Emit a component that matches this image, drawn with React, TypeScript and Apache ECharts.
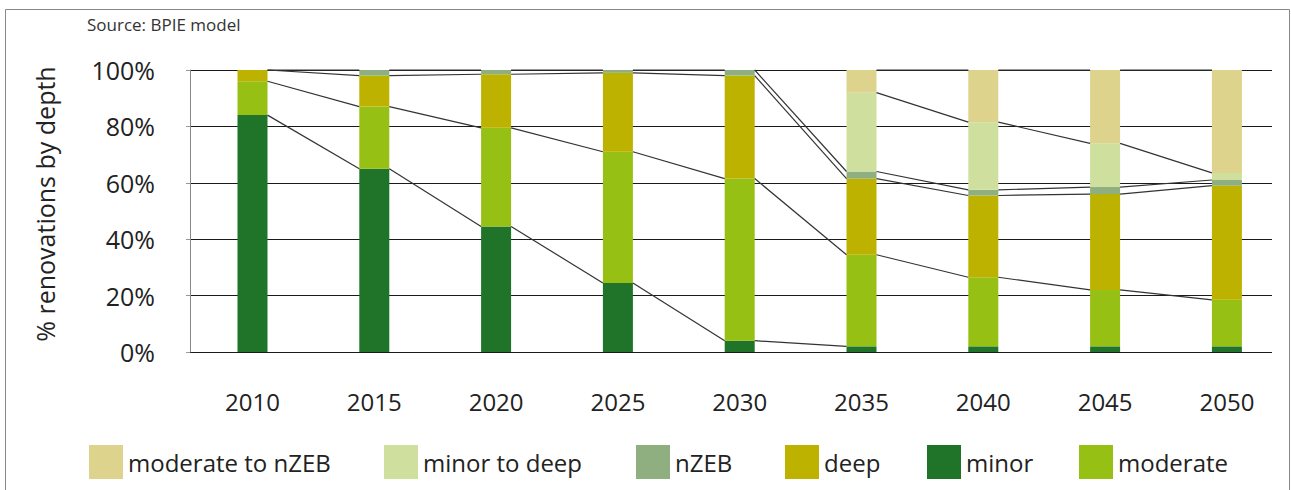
import React, { useEffect, useRef } from "react";
import * as echarts from "echarts";

const years = ["2010", "2015", "2020", "2025", "2030", "2035", "2040", "2045", "2050"];
const yTicks = [0, 20, 40, 60, 80, 100];

// stack order from bottom to top
const minor = [84, 65, 44.5, 24.5, 4, 2, 2, 2, 2];
const moderate = [12, 22, 35, 46.5, 57.5, 32.5, 24.5, 20, 16.5];
const deep = [4, 11, 19, 28, 36.5, 27, 29, 34, 40.5];
const nZEB = [0, 2, 1.5, 1, 2, 2.5, 2, 2.5, 2];
const minorToDeep = [null, null, null, null, null, 28, 24, 15.5, 2.5];
const moderateToNzeb = [null, null, null, null, null, 8, 18.5, 26, 36.5];

const stackNames = ["minor", "moderate", "deep", "nZEB", "minor to deep", "moderate to nZEB"];
const stackValues: (number | null)[][] = [minor, moderate, deep, nZEB, minorToDeep, moderateToNzeb];
const stackColors = ["#1f7429", "#97c015", "#bdb200", "#8faf80", "#cfdf9e", "#ddd38c"];

// connector (series) lines that are not drawn in the original: [series, start index]
const connectorSkip: [string, number][] = [
  ["minor", 5],
  ["minor", 6],
  ["minor", 7],
];

const legendOrder = ["moderate to nZEB", "minor to deep", "nZEB", "deep", "minor", "moderate"];
const legendLeft = [89, 384, 636, 785, 927, 1079];

const FONT = "'Open Sans', 'Noto Sans', sans-serif";
const BAR_W = 30;

export default function App() {
  const ref = useRef<HTMLDivElement>(null);
  useEffect(() => {
    if (!ref.current) return;
    const chart = echarts.init(ref.current, null, { renderer: "svg" });

    // cumulative tops for connector lines
    const cum: (number | null)[][] = [];
    const running = years.map(() => 0);
    stackValues.forEach((arr) => {
      cum.push(
        arr.map((v, i) => {
          if (v === null) return null;
          running[i] += v;
          return running[i];
        })
      );
    });
    const lineData: number[][] = [];
    cum.forEach((c, k) => {
      for (let i = 0; i < years.length - 1; i++) {
        const a = c[i];
        const b = c[i + 1];
        const skip = connectorSkip.some(([n, s]) => n === stackNames[k] && s === i);
        if (a !== null && b !== null && !skip) lineData.push([i, a, b]);
      }
    });

    const barSeries = stackNames.map((name, k) => ({
      name,
      type: "bar",
      stack: "total",
      xAxisIndex: 0,
      yAxisIndex: 0,
      barWidth: BAR_W,
      data: stackValues[k],
      itemStyle: { color: stackColors[k] },
      z: 2,
    }));

    const legends = legendOrder.map((name, k) => ({
      data: [name],
      left: legendLeft[k],
      top: 445,
      padding: 0,
      itemGap: 0,
      itemWidth: 34,
      itemHeight: 34,
      icon: "rect",
      selectedMode: false,
      textStyle: { fontSize: 24, fontFamily: FONT, color: "#222" },
    }));

    chart.setOption({
      animation: false,
      backgroundColor: "#ffffff",
      legend: legends,
      grid: [
        { left: 191.6, right: 3.2, top: 70, bottom: 138 },
        { left: 190, right: 19, top: 70, bottom: 138 },
      ],
      xAxis: [
        {
          type: "category",
          gridIndex: 0,
          data: years,
          axisLine: { show: false },
          axisTick: { show: false },
          axisLabel: { interval: 0, fontSize: 24, fontFamily: FONT, color: "#222", margin: 37 },
        },
        { type: "value", gridIndex: 1, min: 0, max: 1, show: false },
      ],
      yAxis: [
        { type: "value", gridIndex: 0, min: 0, max: 100, show: false },
        {
          type: "value",
          gridIndex: 1,
          min: 0,
          max: 100,
          interval: 20,
          axisLine: { show: true, lineStyle: { color: "#888", width: 1 } },
          axisTick: { show: true, length: 4, lineStyle: { color: "#999" } },
          axisLabel: {
            fontSize: 25,
            fontFamily: FONT,
            color: "#222",
            margin: 35,
            formatter: (v: number) => (yTicks.includes(v) ? v + "%" : ""),
          },
          splitLine: { show: true, lineStyle: { color: "#1a1a1a", width: 1 } },
        },
      ],
      graphic: [
        {
          type: "rect",
          shape: { x: 5.5, y: 9.5, width: 1284, height: 500 },
          style: { fill: "none", stroke: "#888", lineWidth: 1 },
          silent: true,
        },
        {
          type: "text",
          x: 87,
          y: 16,
          style: {
            text: "Source: BPIE model",
            fontSize: 17,
            fontFamily: FONT,
            fill: "#333",
            align: "left",
            verticalAlign: "top",
          },
        },
        {
          type: "text",
          x: 45,
          y: 204,
          rotation: Math.PI / 2,
          style: {
            text: "% renovations by depth",
            fontSize: 25,
            fontFamily: FONT,
            fill: "#222",
            align: "center",
            verticalAlign: "middle",
          },
        },
      ],
      series: [
        ...barSeries,
        {
          type: "custom",
          name: "series lines",
          xAxisIndex: 0,
          yAxisIndex: 0,
          z: 3,
          silent: true,
          data: lineData,
          renderItem: (params: any, api: any) => {
            const i = api.value(0);
            const p1 = api.coord([i, api.value(1)]);
            const p2 = api.coord([i + 1, api.value(2)]);
            return {
              type: "line",
              shape: { x1: p1[0] + BAR_W / 2, y1: p1[1], x2: p2[0] - BAR_W / 2, y2: p2[1] },
              style: { stroke: "#333", lineWidth: 1.2 },
            };
          },
        },
      ],
    });
    return () => chart.dispose();
  }, []);
  return (
    <div
      ref={ref}
      style={{ position: "fixed", left: 0, top: 0, width: 1291, height: 490, background: "#fff" }}
    />
  );
}
